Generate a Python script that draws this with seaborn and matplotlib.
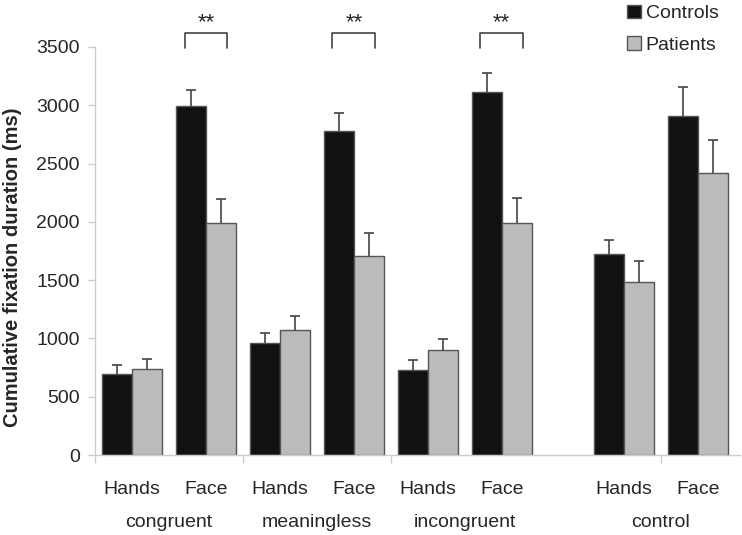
import numpy as np
import pandas as pd
import matplotlib
matplotlib.use("Agg")
import matplotlib.pyplot as plt
import matplotlib.transforms as mtransforms
import seaborn as sns

# values (ms)
conditions = ["congruent", "meaningless", "incongruent", "control"]
parts = ["Hands", "Face"]
groups = ["Controls", "Patients"]

controls_mean = [692, 2994, 961, 2782, 732, 3117, 1722, 2908]
controls_err = [78, 134, 83, 152, 80, 160, 125, 249]
patients_mean = [741, 1988, 1075, 1707, 903, 1988, 1487, 2419]
patients_err = [80, 205, 120, 197, 95, 219, 180, 281]

# condition/part pairs marked ** in the figure
significant = [("congruent", "Face"), ("meaningless", "Face"), ("incongruent", "Face")]

# layout
control_gap = 0.65
bar_w = 0.405
colors = {"Controls": "#111111", "Patients": "#bbbbbb"}

rows = []
for ci, cond in enumerate(conditions):
    for pi, part in enumerate(parts):
        i = ci * 2 + pi
        pos = i + (control_gap if cond == "control" else 0)
        rows.append(dict(condition=cond, part=part, pos=pos, group="Controls",
                         value=controls_mean[i], err=controls_err[i]))
        rows.append(dict(condition=cond, part=part, pos=pos, group="Patients",
                         value=patients_mean[i], err=patients_err[i]))
df = pd.DataFrame(rows)

sns.set_style("white")
plt.rcParams["font.family"] = ["Liberation Sans", "DejaVu Sans"]

fig = plt.figure(figsize=(7.42, 5.35), dpi=100)
ax = fig.add_axes([95 / 742, 80 / 535, (740 - 95) / 742, 408 / 535])

sns.barplot(data=df, x="pos", y="value", hue="group", hue_order=groups,
            native_scale=True, width=2 * bar_w, palette=colors,
            edgecolor="#555555", linewidth=1.0, errorbar=None, ax=ax)

# upward-only error bars (drop the lower caps)
for g, sign in zip(groups, [-1, 1]):
    sub = df[df["group"] == g]
    xs = sub["pos"].to_numpy() + sign * bar_w / 2
    eb = ax.errorbar(xs, sub["value"], yerr=[np.zeros(len(sub)), sub["err"]],
                     fmt="none", ecolor="#444444", elinewidth=1.2,
                     capsize=3.5, capthick=1.2, zorder=3)
    eb[1][0].set_visible(False)

# significance brackets
for cond, part in significant:
    p = df[(df["condition"] == cond) & (df["part"] == part)]["pos"].iloc[0]
    ax.plot([p - 0.29, p - 0.29, p + 0.29, p + 0.29], [3490, 3620, 3620, 3490],
            color="#444444", lw=1.2, clip_on=False)
    ax.text(p, 3660, "**", ha="center", va="baseline", fontsize=16)

ax.set_xlim(-0.5, 8.22)
ax.set_ylim(0, 3500)
ax.set_yticks(np.arange(0, 3501, 500))

pair_pos = df.drop_duplicates(["condition", "part"])
ax.set_xticks(pair_pos["pos"])
ax.set_xticklabels(pair_pos["part"])
ax.tick_params(axis="x", length=0, pad=19, labelsize=14)
ax.tick_params(axis="y", length=5, width=1, color="#cccccc", pad=6, labelsize=14,
               left=True)

# faint separator ticks on the category axis
ax.set_xticks([-0.5, 1.5, 3.5, 6 + control_gap + 0.5], minor=True)
ax.tick_params(axis="x", which="minor", length=6, width=1, color="#cccccc",
               bottom=True)

trans = mtransforms.blended_transform_factory(ax.transData, ax.transAxes)
for cond in conditions:
    c = df[df["condition"] == cond]["pos"].mean()
    ax.text(c, -0.165, cond, transform=trans, ha="center", va="center",
            fontsize=14)

ax.set_xlabel("")
ax.set_ylabel("Cumulative fixation duration (ms)", fontsize=14.5, fontweight="bold")
ax.yaxis.set_label_coords(-0.113, 0.46)

sns.despine(ax=ax)
for s in ["left", "bottom"]:
    ax.spines[s].set_color("#cccccc")
    ax.spines[s].set_linewidth(1.0)

handles, labels = ax.get_legend_handles_labels()
ax.legend(handles, labels, loc="upper left", bbox_to_anchor=(625 / 742, 0.995),
          bbox_transform=fig.transFigure, frameon=False, fontsize=14,
          handlelength=0.72, handleheight=0.72, handletextpad=0.25,
          labelspacing=0.7, borderaxespad=0, borderpad=0.1)

fig.savefig("out.png", dpi=100)
